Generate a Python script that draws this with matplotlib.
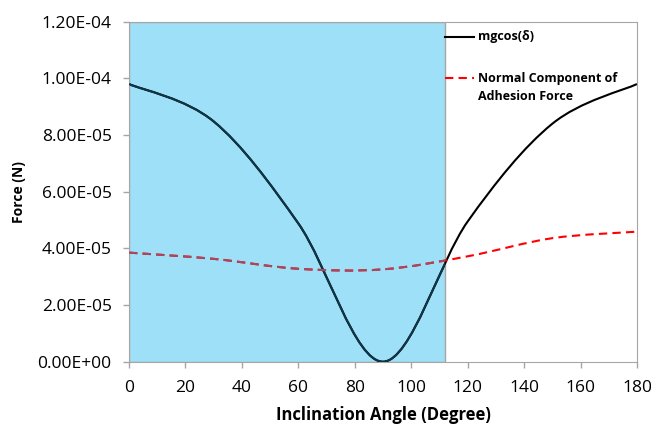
import numpy as np
import matplotlib.pyplot as plt
from matplotlib.path import Path
from matplotlib.patches import PathPatch

plt.rcParams['font.family'] = ['Open Sans', 'DejaVu Sans']

# Angulo de inclinacion (grados)
angulo = [0, 30, 60, 90, 120, 150, 180]

# mg cos(delta) en N
peso_normal = [9.80e-5, 8.48e-5, 4.88e-5, 0.0, 4.95e-5, 8.40e-5, 9.80e-5]

# Componente normal de la fuerza de adhesion en N
adhesion = [3.85e-5, 3.63e-5, 3.28e-5, 3.26e-5, 3.72e-5, 4.36e-5, 4.59e-5]

zona_fin = 112   # limite de la zona sombreada
gris = '#a6a6a6'
guiones = (0, (4, 2.5))


def curva_suave(x, y):
    '''
    Camino de Bezier que pasa por todos los puntos (linea suavizada)
    '''
    p = np.column_stack([x, y])
    n = len(p)
    verts = [p[0]]
    codes = [Path.MOVETO]
    for i in range(n - 1):
        p0 = p[max(i - 1, 0)]
        p1 = p[i]
        p2 = p[i + 1]
        p3 = p[min(i + 2, n - 1)]
        verts += [p1 + (p2 - p0) / 6, p2 - (p3 - p1) / 6, p2]
        codes += [Path.CURVE4] * 3
    return Path(verts, codes)


fig = plt.figure(figsize=(6.51, 4.24), dpi=100)
ax = fig.add_axes([0.1982, 0.1469, 0.7803, 0.8019])

zona = ax.axvspan(0, zona_fin, facecolor='#9ee0f8', edgecolor=gris, lw=1.0, zorder=1)

camino_peso = curva_suave(angulo, peso_normal)
camino_adh = curva_suave(angulo, adhesion)

# curvas completas
ax.add_patch(PathPatch(camino_peso, fill=False, edgecolor='black', lw=1.5, zorder=2))
ax.add_patch(PathPatch(camino_adh, fill=False, edgecolor='#ff0000', lw=1.5,
                       linestyle=guiones, zorder=2))

# mismas curvas, tonos oscuros dentro de la zona sombreada
c1 = ax.add_patch(PathPatch(camino_peso, fill=False, edgecolor='#0e3548', lw=1.5, zorder=3))
c2 = ax.add_patch(PathPatch(camino_adh, fill=False, edgecolor='#a24a63', lw=1.5,
                            linestyle=guiones, zorder=3))
c1.set_clip_path(zona)
c2.set_clip_path(zona)

ax.set_xlim(0, 180)
ax.set_ylim(0, 1.2e-4)
ax.set_xticks(np.arange(0, 181, 20))
ax.set_yticks(np.arange(0, 1.21e-4, 2e-5))
ax.set_yticklabels(['%.2E' % v for v in np.arange(0, 1.21e-4, 2e-5)])

for s in ax.spines.values():
    s.set_color(gris)
ax.tick_params(axis='both', colors=gris, labelcolor='black', labelsize=12.5,
               length=4.5, width=1)
ax.tick_params(axis='y', pad=8)
ax.tick_params(axis='x', pad=9)

ax.set_xlabel('Inclination Angle (Degree)', fontsize=12, fontweight='bold', labelpad=7)
ax.set_ylabel('Force (N)', fontsize=10, fontweight='bold', labelpad=8)

# leyenda
x0 = (445 - 129) / 508
ax.plot([x0, x0 + 0.058], [0.956, 0.956], color='black', lw=1.5,
        transform=ax.transAxes, clip_on=False, zorder=4)
ax.text(x0 + 0.064, 0.956, 'mgcos(δ)', transform=ax.transAxes, fontsize=9,
        fontweight='bold', va='center', ha='left')
ax.plot([x0, x0 + 0.058], [0.833, 0.833], color='#ff0000', lw=1.5, dashes=(4, 2.5),
        transform=ax.transAxes, clip_on=False, zorder=4)
ax.text(x0 + 0.064, 0.833, 'Normal Component of', transform=ax.transAxes,
        fontsize=9, fontweight='bold', va='center', ha='left')
ax.text(x0 + 0.064, 0.780, 'Adhesion Force', transform=ax.transAxes,
        fontsize=9, fontweight='bold', va='center', ha='left')

fig.savefig('out.png', dpi=100)
